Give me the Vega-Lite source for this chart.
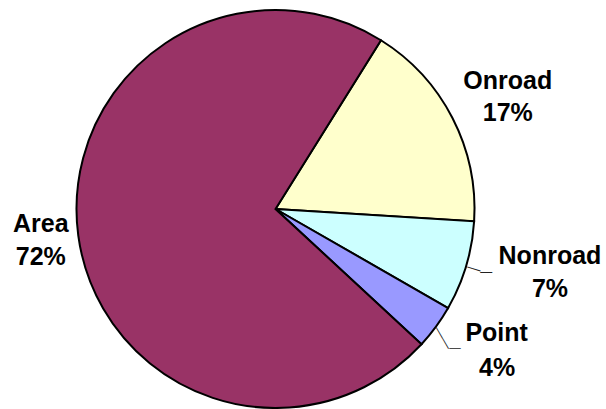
{
  "$schema": "https://vega.github.io/schema/vega-lite/v6.json",
  "autosize": "none",
  "width": 551,
  "height": 400,
  "padding": {"left": 0, "top": 9, "right": 55, "bottom": 0},
  "background": "white",
  "config": {"view": {"stroke": null}},
  "data": {
    "values": [
      {"category": "Onroad", "share": 0.171, "order": 1},
      {"category": "Nonroad", "share": 0.073, "order": 2},
      {"category": "Point", "share": 0.036, "order": 3},
      {"category": "Area", "share": 0.72, "order": 4}
    ]
  },
  "encoding": {
    "theta": {"field": "share", "type": "quantitative", "stack": true, "scale": {"range": [0.5585, 6.8417]}},
    "order": {"field": "order", "type": "quantitative"}
  },
  "layer": [
    {
      "mark": {"type": "arc", "stroke": "black", "strokeWidth": 2},
      "encoding": {
        "radius": {"value": 199},
        "color": {"field": "category", "type": "nominal", "legend": null,
          "scale": {"domain": ["Onroad", "Nonroad", "Point", "Area"], "range": ["#FFFFCC", "#CCFFFF", "#9999FF", "#993366"]}}
      }
    },
    {
      "mark": {"type": "text", "font": "Liberation Sans", "fontWeight": "bold", "fontSize": 25, "align": "center", "baseline": "middle", "color": "black", "dx": 10, "dy": -14},
      "encoding": {"radius": {"value": 250}, "text": {"condition": {"test": "datum.category === 'Onroad'", "field": "category", "type": "nominal"}, "value": ""}}
    },
    {
      "mark": {"type": "text", "font": "Liberation Sans", "fontWeight": "bold", "fontSize": 25, "align": "center", "baseline": "middle", "color": "black", "dx": 10, "dy": 18.6},
      "encoding": {"radius": {"value": 250}, "text": {"condition": {"test": "datum.category === 'Onroad'", "field": "share", "type": "quantitative", "format": ".0%"}, "value": ""}}
    },
    {
      "mark": {"type": "text", "font": "Liberation Sans", "fontWeight": "bold", "fontSize": 25, "align": "center", "baseline": "middle", "color": "black", "dx": 35, "dy": -25},
      "encoding": {"radius": {"value": 250}, "text": {"condition": {"test": "datum.category === 'Nonroad'", "field": "category", "type": "nominal"}, "value": ""}}
    },
    {
      "mark": {"type": "text", "font": "Liberation Sans", "fontWeight": "bold", "fontSize": 25, "align": "center", "baseline": "middle", "color": "black", "dx": 35, "dy": 8.4},
      "encoding": {"radius": {"value": 250}, "text": {"condition": {"test": "datum.category === 'Nonroad'", "field": "share", "type": "quantitative", "format": ".0%"}, "value": ""}}
    },
    {
      "mark": {"type": "text", "font": "Liberation Sans", "fontWeight": "bold", "fontSize": 25, "align": "center", "baseline": "middle", "color": "black", "dx": 19.7, "dy": -24.5},
      "encoding": {"radius": {"value": 250}, "text": {"condition": {"test": "datum.category === 'Point'", "field": "category", "type": "nominal"}, "value": ""}}
    },
    {
      "mark": {"type": "text", "font": "Liberation Sans", "fontWeight": "bold", "fontSize": 25, "align": "center", "baseline": "middle", "color": "black", "dx": 20.2, "dy": 10.5},
      "encoding": {"radius": {"value": 250}, "text": {"condition": {"test": "datum.category === 'Point'", "field": "share", "type": "quantitative", "format": ".0%"}, "value": ""}}
    },
    {
      "mark": {"type": "text", "font": "Liberation Sans", "fontWeight": "bold", "fontSize": 25, "align": "center", "baseline": "middle", "color": "black", "dx": 13.1, "dy": -17.9},
      "encoding": {"radius": {"value": 250}, "text": {"condition": {"test": "datum.category === 'Area'", "field": "category", "type": "nominal"}, "value": ""}}
    },
    {
      "mark": {"type": "text", "font": "Liberation Sans", "fontWeight": "bold", "fontSize": 25, "align": "center", "baseline": "middle", "color": "black", "dx": 13.1, "dy": 14.6},
      "encoding": {"radius": {"value": 250}, "text": {"condition": {"test": "datum.category === 'Area'", "field": "share", "type": "quantitative", "format": ".0%"}, "value": ""}}
    },
    {
      "mark": {"type": "text", "font": "Liberation Sans", "fontSize": 14, "align": "center", "baseline": "middle", "color": "#222222", "angle": 17},
      "encoding": {"radius": {"value": 207}, "text": {"condition": {"test": "datum.category === 'Nonroad'", "value": "—"}, "value": ""}}
    },
    {
      "mark": {"type": "text", "font": "Liberation Sans", "fontSize": 12, "align": "center", "baseline": "middle", "color": "#222222", "dx": 5.7, "dy": 1.2},
      "encoding": {"radius": {"value": 214}, "text": {"condition": {"test": "datum.category === 'Nonroad'", "value": "—"}, "value": ""}}
    },
    {
      "mark": {"type": "text", "font": "Liberation Sans", "fontSize": 12.5, "align": "center", "baseline": "middle", "color": "#222222", "angle": 59.7, "dx": 1.85, "dy": 4},
      "encoding": {"radius": {"value": 211}, "text": {"condition": {"test": "datum.category === 'Point'", "value": "——"}, "value": ""}}
    },
    {
      "mark": {"type": "text", "font": "Liberation Sans", "fontSize": 11.5, "align": "center", "baseline": "middle", "color": "#222222", "dx": 9.5, "dy": 14.4},
      "encoding": {"radius": {"value": 211}, "text": {"condition": {"test": "datum.category === 'Point'", "value": "—"}, "value": ""}}
    }
  ]
}
